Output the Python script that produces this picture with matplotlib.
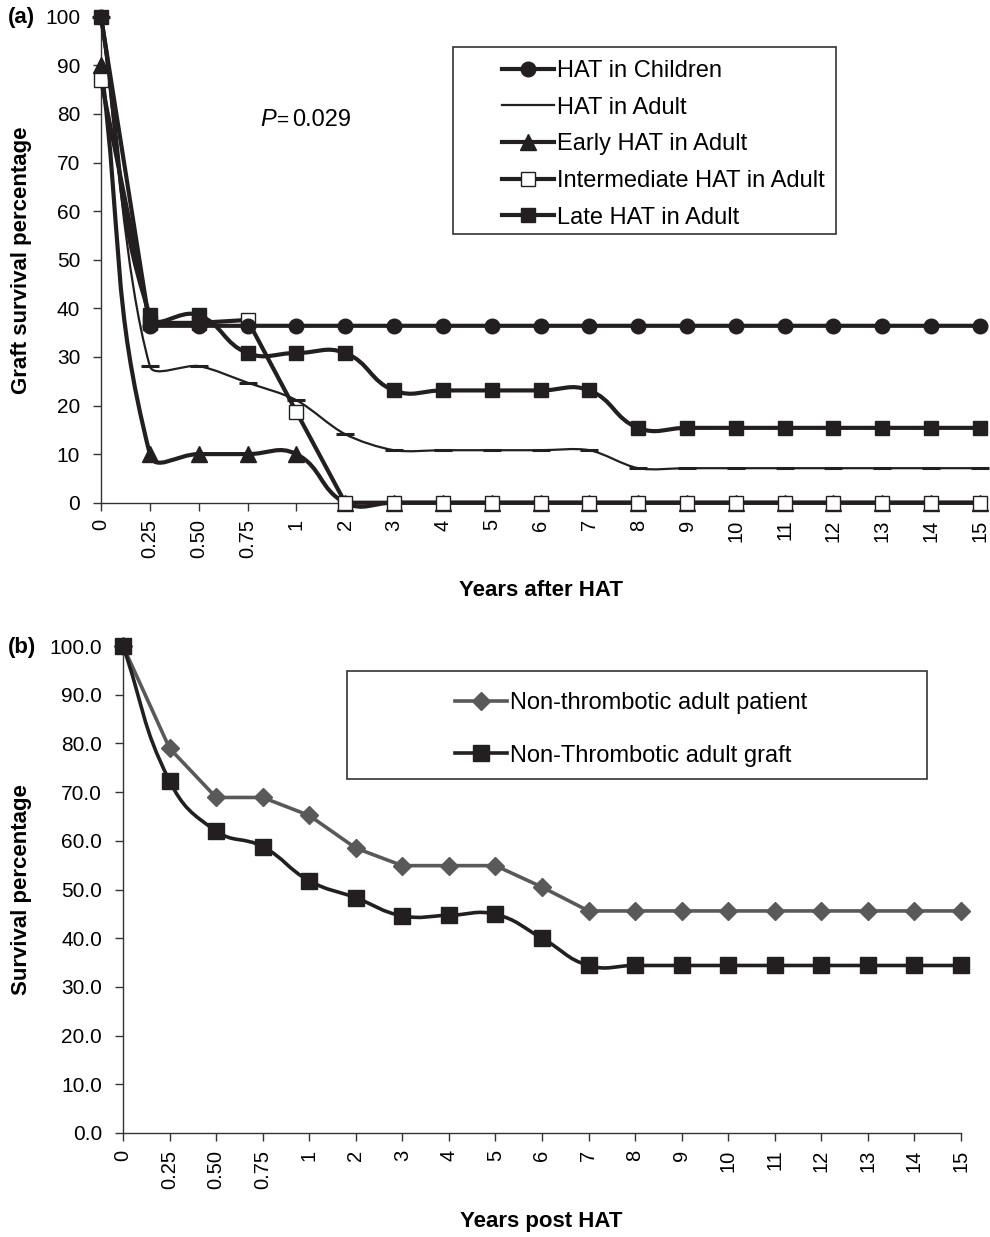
import matplotlib
matplotlib.use('Agg')
import matplotlib.pyplot as plt
import numpy as np
from matplotlib.path import Path
from matplotlib.patches import PathPatch, Rectangle
from matplotlib.lines import Line2D

plt.rcParams['font.family'] = ['Liberation Sans', 'DejaVu Sans']

# ---------------- data ----------------
categories = ['0', '0.25', '0.50', '0.75', '1', '2', '3', '4', '5', '6', '7',
              '8', '9', '10', '11', '12', '13', '14', '15']

hat_children = [100, 36.4, 36.4, 36.4, 36.4, 36.4, 36.4, 36.4, 36.4, 36.4, 36.4,
                36.4, 36.4, 36.4, 36.4, 36.4, 36.4, 36.4, 36.4]
hat_adult = [100, 28.1, 28.1, 24.7, 21.1, 14.1, 10.8, 10.8, 10.8, 10.8, 10.8,
             7.1, 7.1, 7.1, 7.1, 7.1, 7.1, 7.1, 7.1]
early_hat = [90, 10, 10, 10, 10, 0, 0, 0, 0, 0, 0, 0, 0, 0, 0, 0, 0, 0, 0]
intermediate_hat = [87, 37, 37, 37.6, 18.7, 0, 0, 0, 0, 0, 0, 0, 0, 0, 0, 0, 0, 0, 0]
late_hat = [100, 38.6, 38.6, 30.8, 30.8, 30.8, 23.1, 23.1, 23.1, 23.1, 23.1,
            15.4, 15.4, 15.4, 15.4, 15.4, 15.4, 15.4, 15.4]

patient_surv = [100, 79.0, 68.9, 68.9, 65.2, 58.5, 54.9, 54.9, 54.9, 50.5, 45.6,
                45.6, 45.6, 45.6, 45.6, 45.6, 45.6, 45.6, 45.6]
graft_surv = [100, 72.3, 62.0, 58.8, 51.8, 48.3, 44.6, 44.7, 44.9, 40.0, 34.4,
              34.4, 34.4, 34.4, 34.4, 34.4, 34.4, 34.4, 34.4]

labels_a = ['HAT in Children', 'HAT in Adult', 'Early HAT in Adult',
            'Intermediate HAT in Adult', 'Late HAT in Adult']
labels_b = ['Non-thrombotic adult patient', 'Non-Thrombotic adult graft']

BLK = '#231f20'
GRY = '#58595b'
W, H = 990, 1237

fig = plt.figure(figsize=(W / 100, H / 100), dpi=100)


def fx(px):
    return px / W


def fy(py):
    return 1 - py / H


axA = fig.add_axes([fx(101), fy(502.7), fx(980) - fx(101), fy(16.7) - fy(502.7)])
axB = fig.add_axes([fx(123), fy(1133), fx(961) - fx(123), fy(646) - fy(1133)])

xs = np.arange(len(categories))

for ax in (axA, axB):
    ax.set_xlim(0, len(categories) - 1)
    ax.set_ylim(0, 100)
    ax.spines['top'].set_visible(False)
    ax.spines['right'].set_visible(False)
    for s in ('left', 'bottom'):
        ax.spines[s].set_color('#333333')
        ax.spines[s].set_linewidth(1.0)
    ax.set_xticks(xs)
    ax.set_xticklabels(categories, rotation=90)
    ax.set_yticks(np.arange(0, 101, 10))
    ax.tick_params(axis='both', direction='out', length=6, width=1.0,
                   color='#333333')
    ax.tick_params(axis='y', labelsize=15, pad=9)
    ax.tick_params(axis='x', labelsize=14.5, pad=6)

axB.set_yticklabels([f'{v:.1f}' for v in np.arange(0, 101, 10)])


def smooth_line(ax, xv, yv, s=0.45, **kw):
    pts = ax.transData.transform(np.column_stack([xv, yv]).astype(float))
    n = len(pts)
    verts = [pts[0]]
    codes = [Path.MOVETO]
    for i in range(n - 1):
        p0 = pts[i - 1] if i > 0 else pts[i]
        p1 = pts[i]
        p2 = pts[i + 1]
        p3 = pts[i + 2] if i + 2 < n else pts[i + 1]
        L = np.linalg.norm(p2 - p1)
        d1 = np.linalg.norm(p1 - p0) + L
        d2 = L + np.linalg.norm(p3 - p2)
        t1 = (p2 - p0) / d1 if d1 > 0 else np.zeros(2)
        t2 = (p3 - p1) / d2 if d2 > 0 else np.zeros(2)
        c1 = p1 + t1 * L * s
        c2 = p2 - t2 * L * s
        verts += [c1, c2, p2]
        codes += [Path.CURVE4] * 3
    verts = ax.transData.inverted().transform(np.array(verts))
    patch = PathPatch(Path(verts, codes), fill=False, capstyle='round',
                      joinstyle='round', **kw)
    patch.set_clip_on(False)
    ax.add_patch(patch)


# ---------------- panel (a) ----------------
lw_a = 3.0
# HAT in Adult (thin, dash markers)
smooth_line(axA, xs, hat_adult, s=0.3, edgecolor=BLK, linewidth=1.6, zorder=3)
axA.plot(xs, hat_adult, linestyle='none', marker='_', ms=13, mew=2.2,
         color=BLK, clip_on=False, zorder=4)
# Early HAT (triangles, smoothed)
smooth_line(axA, xs, early_hat, edgecolor=BLK, linewidth=lw_a, zorder=3)
axA.plot(xs, early_hat, linestyle='none', marker='^', ms=11, color=BLK,
         clip_on=False, zorder=4)
# Intermediate HAT (open squares)
axA.plot(xs, intermediate_hat, color=BLK, lw=lw_a, marker='s', ms=10,
         mfc='white', mec=BLK, mew=1.0, clip_on=False, zorder=5)
# Children (circles)
axA.plot(xs, hat_children, color=BLK, lw=lw_a, marker='o', ms=10.5,
         clip_on=False, zorder=6)
# Late HAT (filled squares, smoothed)
smooth_line(axA, xs, late_hat, edgecolor=BLK, linewidth=lw_a, zorder=6)
axA.plot(xs, late_hat, linestyle='none', marker='s', ms=10.5, color=BLK,
         clip_on=False, zorder=7)

handles_a = [
    Line2D([], [], color=BLK, lw=lw_a, marker='o', ms=10.5),
    Line2D([], [], color=BLK, lw=1.6),
    Line2D([], [], color=BLK, lw=lw_a, marker='^', ms=11),
    Line2D([], [], color=BLK, lw=lw_a, marker='s', ms=10, mfc='white', mec=BLK, mew=1.0),
    Line2D([], [], color=BLK, lw=lw_a, marker='s', ms=10.5),
]
fig.legend(handles_a, labels_a, loc='upper left',
           bbox_to_anchor=(fx(502), fy(60)), bbox_transform=fig.transFigure,
           frameon=False, fontsize=17, handlelength=2.2, handletextpad=0.15,
           labelspacing=0.62, borderpad=0, borderaxespad=0)
fig.add_artist(Rectangle((fx(453), fy(234)), fx(836) - fx(453), fy(47) - fy(234),
                         transform=fig.transFigure, fill=False,
                         edgecolor='#333333', linewidth=1.2))

fig.text(fx(260), fy(120), 'P', fontsize=17, style='italic', va='center', ha='left')
fig.text(fx(277), fy(120), '=', fontsize=15, va='center', ha='left')
fig.text(fx(292), fy(120), '0.029', fontsize=17, va='center', ha='left')

# ---------------- panel (b) ----------------
axB.plot(xs, patient_surv, color=GRY, lw=2.6, marker='D', ms=9.5,
         clip_on=False, zorder=4)
smooth_line(axB, xs, graft_surv, edgecolor=BLK, linewidth=2.6, zorder=5)
axB.plot(xs, graft_surv, linestyle='none', marker='s', ms=11, color=BLK,
         clip_on=False, zorder=6)

handles_b = [
    Line2D([], [], color=GRY, lw=2.6, marker='D', ms=9.5),
    Line2D([], [], color=BLK, lw=2.6, marker='s', ms=11),
]
fig.legend(handles_b, labels_b, loc='upper left',
           bbox_to_anchor=(fx(455), fy(692)), bbox_transform=fig.transFigure,
           frameon=False, fontsize=17, handlelength=2.2, handletextpad=0.15,
           labelspacing=1.3, borderpad=0, borderaxespad=0)
fig.add_artist(Rectangle((fx(347), fy(779)), fx(927) - fx(347), fy(671) - fy(779),
                         transform=fig.transFigure, fill=False,
                         edgecolor='#333333', linewidth=1.2))

# ---------------- titles / labels ----------------
fig.text(fx(22), fy(260), 'Graft survival percentage', rotation=90, fontsize=16,
         fontweight='bold', ha='center', va='center')
fig.text(fx(22), fy(890), 'Survival percentage', rotation=90, fontsize=16,
         fontweight='bold', ha='center', va='center')
fig.text(fx(541), fy(591), 'Years after HAT', fontsize=16, fontweight='bold',
         ha='center', va='center')
fig.text(fx(541), fy(1222), 'Years post HAT', fontsize=16, fontweight='bold',
         ha='center', va='center')
fig.text(fx(8), fy(17), '(a)', fontsize=16, fontweight='bold', ha='left', va='center')
fig.text(fx(8), fy(648), '(b)', fontsize=16, fontweight='bold', ha='left', va='center')

fig.savefig('out.png', dpi=100)
